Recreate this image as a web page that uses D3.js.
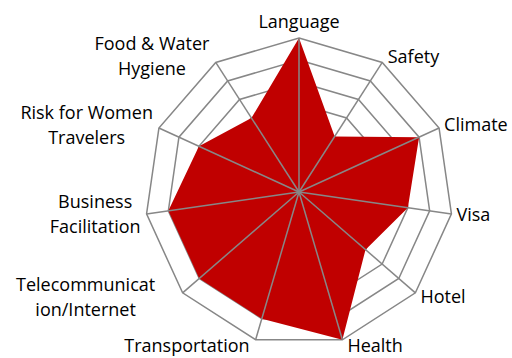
<!DOCTYPE html>
<html>
<head>
<meta charset="utf-8">
<script src="https://cdn.jsdelivr.net/npm/d3@7"></script>
<style>
  body { margin: 0; background: #fff; }
  text { font-family: "Open Sans", sans-serif; font-size: 18px; fill: #000; }
</style>
</head>
<body>
<div id="chart"></div>
<script>
// categories clockwise from the top
const categories = ["Language", "Safety", "Climate", "Visa", "Hotel", "Health",
  "Transportation", "Telecommunication/Internet", "Business Facilitation",
  "Risk for Women Travelers", "Food & Water Hygiene"];
// how the labels wrap in the picture
const labelLines = [["Language"], ["Safety"], ["Climate"], ["Visa"], ["Hotel"], ["Health"],
  ["Transportation"], ["Telecommunicat", "ion/Internet"], ["Business", "Facilitation"],
  ["Risk for Women", "Travelers"], ["Food & Water", "Hygiene"]];
const values = [7, 3, 6, 5, 4, 7, 6, 6, 6, 5, 4];
const ringTicks = [1, 2, 3, 4, 5, 6, 7];

const width = 512, height = 358;
const cx = 299, cy = 192, radius = 154;
const wrapWidth = 182;   // label box width when a word had to be broken
const gridColor = "#878787";

const svg = d3.select("#chart").append("svg")
  .attr("width", width)
  .attr("height", height);

const r = d3.scaleLinear().domain([0, 7]).range([0, radius]);
const angle = d3.scaleLinear().domain([0, categories.length]).range([0, 2 * Math.PI]);

const g = svg.append("g").attr("transform", `translate(${cx},${cy})`);

const radial = d3.lineRadial()
  .angle((d, i) => angle(i))
  .radius(d => r(d))
  .curve(d3.curveLinearClosed);

// rings
g.selectAll(".ring")
  .data(ringTicks)
  .join("path")
  .attr("class", "ring")
  .attr("d", t => radial(categories.map(() => t)))
  .attr("fill", "none")
  .attr("stroke", gridColor)
  .attr("stroke-width", 1.5);

// filled series
g.append("path")
  .attr("d", radial(values))
  .attr("fill", "#C00000");

// spokes on top of the fill
g.selectAll(".spoke")
  .data(categories)
  .join("line")
  .attr("class", "spoke")
  .attr("x1", 0).attr("y1", 0)
  .attr("x2", (d, i) => r(7) * Math.sin(angle(i)))
  .attr("y2", (d, i) => -r(7) * Math.cos(angle(i)))
  .attr("stroke", gridColor)
  .attr("stroke-width", 1.5);

// category labels
const lineH = 25;
const labels = g.selectAll(".label")
  .data(categories)
  .join("text")
  .attr("class", "label")
  .attr("text-anchor", "middle");

labels.each(function (d, i) {
  const t = d3.select(this);
  const lines = labelLines[i];
  lines.forEach((s, k) => t.append("tspan").attr("x", 0).attr("dy", k === 0 ? 0 : lineH).text(s));
  const bb = this.getBBox();
  let w = bb.width;
  if (lines.length > 1 && !d.includes(" ")) w = Math.max(w, wrapWidth);
  const h = lines.length * lineH;
  const a = angle(i);
  const sx = Math.sin(a), cyA = Math.cos(a);
  const vx = r(7) * sx, vy = -r(7) * cyA;
  let x, yc;
  if (Math.abs(sx) < 0.05) {
    x = vx;
    yc = vy - 4 - h / 2;
  } else {
    x = sx > 0 ? vx + 5 + w / 2 : vx - 6 - w / 2;
    yc = vy - cyA * 7;
  }
  // first baseline from block centre
  const y0 = yc - h / 2 + lineH / 2 + 6;
  t.attr("transform", `translate(${x},${y0})`);
});
</script>
</body>
</html>
